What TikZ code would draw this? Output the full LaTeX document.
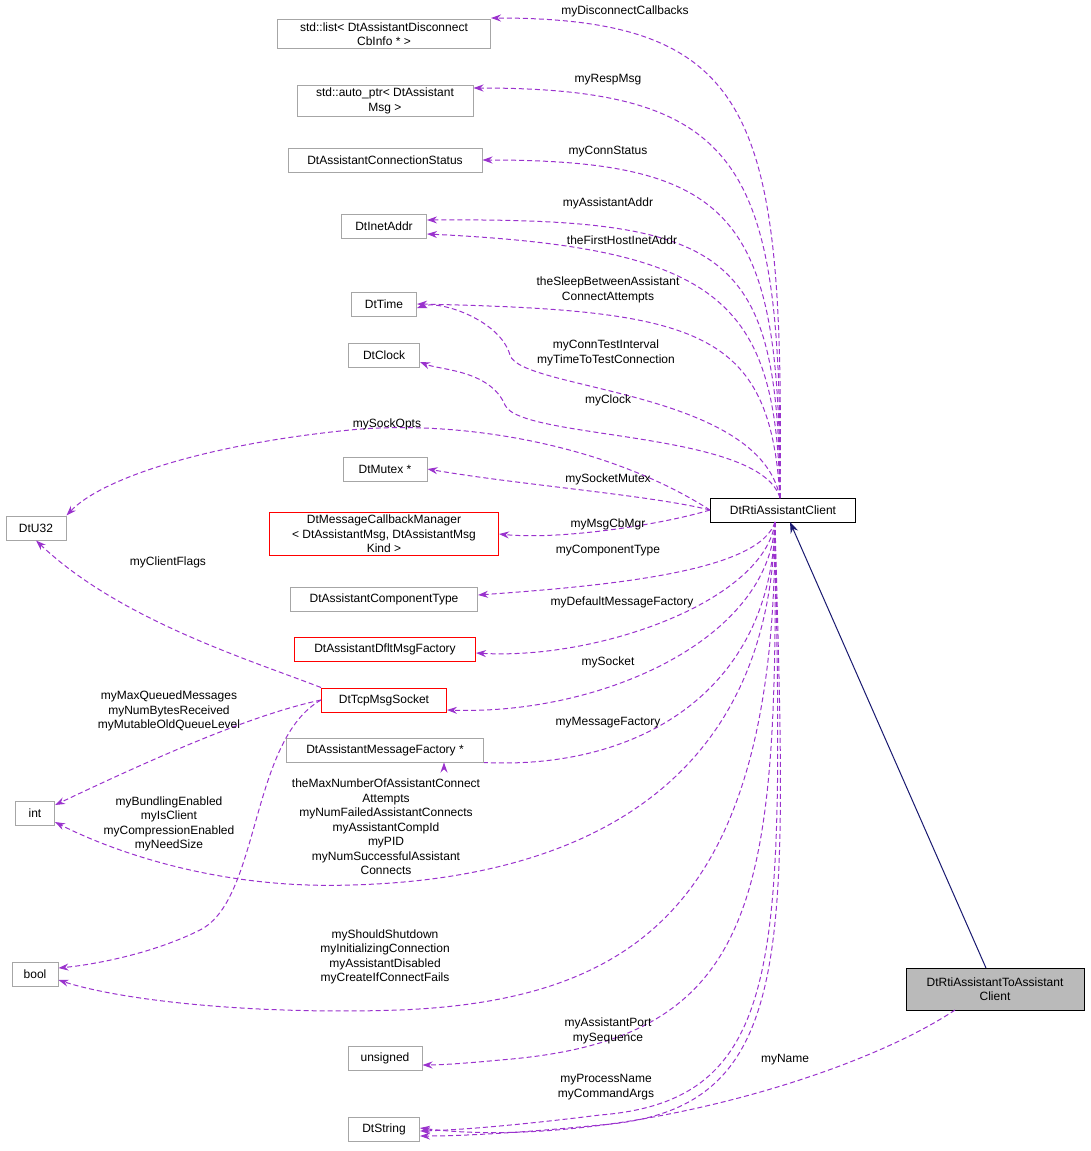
\documentclass[tikz,border=0pt]{standalone}
\usepackage{fontspec}
\setmainfont{Liberation Sans}
\usetikzlibrary{arrows.meta}
\begin{document}
\begin{tikzpicture}[x=1pt,y=-1pt,line width=1pt,
 box/.style={draw=black!35,fill=white,font=\fontsize{12}{14.5}\selectfont,align=center,inner xsep=5pt,inner ysep=3pt,minimum height=24pt},
 red/.style={box,draw=red},
 lbl/.style={font=\fontsize{12}{14.5}\selectfont,align=center,inner sep=0pt},
 dep/.style={draw={rgb,255:red,154;green,50;blue,205},dash pattern=on 5pt off 3pt,-{Stealth[length=10pt,width=7pt]}},
 inh/.style={draw={rgb,255:red,25;green,25;blue,112},-{Stealth[length=11pt,width=8pt]}}]
\useasboundingbox (0,0) rectangle (1091,1151);
\node[box,minimum width=213] (list) at (384,34) {std::list< DtAssistantDisconnect\\CbInfo * >};
\node[box,minimum width=176] (ap) at (385,101) {std::auto\_ptr< DtAssistant\\Msg >};
\node[box,minimum width=194] (cs) at (385,160) {DtAssistantConnectionStatus};
\node[box,minimum width=85] (ia) at (384,226) {DtInetAddr};
\node[box,minimum width=65] (tm) at (384,304) {DtTime};
\node[box,minimum width=71] (ck) at (384,355) {DtClock};
\node[box,minimum width=84] (mx) at (385,469) {DtMutex *};
\node[red,minimum width=229] (cb) at (384,534) {DtMessageCallbackManager\\< DtAssistantMsg, DtAssistantMsg\\Kind >};
\node[box,minimum width=187] (ct) at (384,599) {DtAssistantComponentType};
\node[red,minimum width=181] (df) at (385,649) {DtAssistantDfltMsgFactory};
\node[red,minimum width=125] (so) at (384,700) {DtTcpMsgSocket};
\node[box,minimum width=197] (mf) at (385,750) {DtAssistantMessageFactory *};
\node[box,minimum width=74] (un) at (385,1058) {unsigned};
\node[box,minimum width=71] (st) at (384,1129) {DtString};
\node[box,minimum width=60] (u32) at (36,528) {DtU32};
\node[box,minimum width=39] (int) at (35,813) {int};
\node[box,minimum width=46] (bo) at (35,974) {bool};
\node[box,draw=black,minimum width=145] (cl) at (783,510) {DtRtiAssistantClient};
\node[box,draw=black,fill=black!27,minimum width=178,minimum height=42] (ta) at (995,989) {DtRtiAssistantToAssistant\\Client};
\coordinate (c1) at (780,498);
\coordinate (c2) at (775,522);
\coordinate (t1) at (955,1010);
\draw[inh] (986,968) -- (790,522);
\draw[dep] (c1) .. controls (784,120) and (760,18) .. (list.east |- 0,18);
\draw[dep] (c1) .. controls (782,170) and (750,88) .. (ap.east |- 0,88);
\draw[dep] (c1) .. controls (780,220) and (740,160) .. (cs.east);
\draw[dep] (c1) .. controls (778,250) and (730,218) .. (ia.east |- 0,220);
\draw[dep] (c1) .. controls (776,300) and (720,248) .. (ia.east |- 0,234);
\draw[dep] (c1) .. controls (770,330) and (700,310) .. (tm.east |- 0,304);
\draw[dep] (c1) .. controls (760,390) and (520,390) .. (510,355) .. controls (500,320) and (440,300) .. (tm.east |- 0,308);
\draw[dep] (c1) .. controls (760,430) and (520,440) .. (505,405) .. controls (490,370) and (440,370) .. (ck.east |- 0,362);
\draw[dep] (cl.west) .. controls (600,440) and (450,420) .. (350,430) .. controls (200,445) and (100,480) .. (u32.north east);
\draw[dep] (cl.west) .. controls (650,495) and (520,485) .. (mx.east);
\draw[dep] (cl.west) .. controls (660,525) and (560,540) .. (cb.east);
\draw[dep] (c2) .. controls (760,570) and (620,585) .. (ct.east |- 0,595);
\draw[dep] (c2) .. controls (765,600) and (600,660) .. (df.east |- 0,653);
\draw[dep] (c2) .. controls (770,640) and (600,715) .. (so.east |- 0,710);
\draw[dep] (c2) .. controls (772,690) and (640,770) .. (mf.south east) ++(-40,0);
\draw[dep] (c2) .. controls (770,800) and (560,880) .. (350,885) .. controls (200,890) and (90,840) .. (int.east |- 0,822);
\draw[dep] (c2) .. controls (776,900) and (640,1000) .. (400,1010) .. controls (250,1015) and (120,1000) .. (bo.east |- 0,980);
\draw[dep] (c2) .. controls (778,900) and (760,1040) .. (500,1060) .. controls (470,1063) and (440,1065) .. (un.east |- 0,1065);
\draw[dep] (c2) .. controls (782,950) and (790,1100) .. (600,1115) .. controls (520,1125) and (460,1130) .. (st.east |- 0,1131);
\draw[dep] (c2) .. controls (786,950) and (800,1110) .. (600,1125) .. controls (520,1133) and (460,1136) .. (st.east |- 0,1136);
\draw[dep] (t1) .. controls (850,1080) and (600,1150) .. (st.east |- 0,1128);
\draw[dep] (so.north west) .. controls (250,660) and (120,620) .. (u32.south);
\draw[dep] (so.west) .. controls (250,715) and (150,760) .. (int.east |- 0,805);
\draw[dep] (so.west) .. controls (250,740) and (260,900) .. (200,930) .. controls (150,955) and (90,965) .. (bo.east |- 0,968);
\node[lbl] at (625,11) {myDisconnectCallbacks};
\node[lbl] at (608,80) {myRespMsg};
\node[lbl] at (608,152) {myConnStatus};
\node[lbl] at (608,203) {myAssistantAddr};
\node[lbl] at (622,240) {theFirstHostInetAddr};
\node[lbl] at (608,290) {theSleepBetweenAssistant\\ConnectAttempts};
\node[lbl] at (606,353) {myConnTestInterval\\myTimeToTestConnection};
\node[lbl] at (608,400) {myClock};
\node[lbl] at (387,424) {mySockOpts};
\node[lbl] at (608,479) {mySocketMutex};
\node[lbl] at (608,524) {myMsgCbMgr};
\node[lbl] at (608,551) {myComponentType};
\node[lbl] at (622,602) {myDefaultMessageFactory};
\node[lbl] at (608,662) {mySocket};
\node[lbl] at (608,723) {myMessageFactory};
\node[lbl] at (168,562) {myClientFlags};
\node[lbl] at (169,711) {myMaxQueuedMessages\\myNumBytesReceived\\myMutableOldQueueLevel};
\node[lbl] at (169,824) {myBundlingEnabled\\myIsClient\\myCompressionEnabled\\myNeedSize};
\node[lbl] at (386,827) {theMaxNumberOfAssistantConnect\\Attempts\\myNumFailedAssistantConnects\\myAssistantCompId\\myPID\\myNumSuccessfulAssistant\\Connects};
\node[lbl] at (385,957) {myShouldShutdown\\myInitializingConnection\\myAssistantDisabled\\myCreateIfConnectFails};
\node[lbl] at (608,1031) {myAssistantPort\\mySequence};
\node[lbl] at (606,1087) {myProcessName\\myCommandArgs};
\node[lbl] at (785,1060) {myName};
\end{tikzpicture}
\end{document}
